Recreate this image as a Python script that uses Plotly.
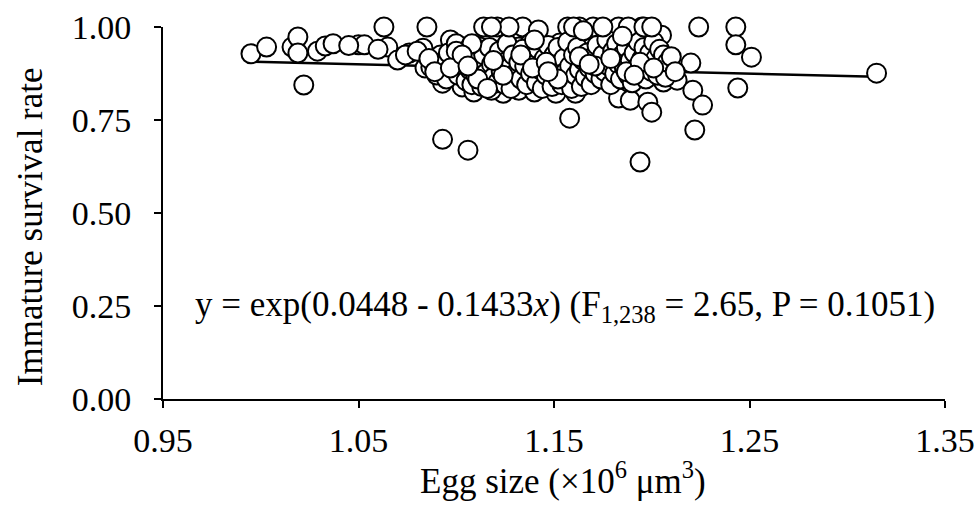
import plotly.graph_objects as go
import numpy as np

# Scatter data: egg size (x10^6 um^3) and immature survival rate
egg_size = [
    0.995, 1.003, 1.016, 1.019, 1.019, 1.022, 1.029, 1.033, 1.037, 1.050,
    1.053, 1.063, 1.065, 1.070, 1.076, 1.083, 1.085, 1.084, 1.087, 1.093,
    1.106, 1.114, 1.121, 1.134, 1.097, 1.092, 1.099, 1.094, 1.103, 1.112,
    1.116, 1.123, 1.132, 1.129, 1.093, 1.103, 1.109, 1.116, 1.124, 1.132,
    1.111, 1.130, 1.090, 1.142, 1.157, 1.163, 1.170, 1.183, 1.138, 1.153,
    1.166, 1.176, 1.144, 1.152, 1.162, 1.172, 1.180, 1.139, 1.148, 1.158,
    1.169, 1.177, 1.140, 1.151, 1.161, 1.185, 1.183, 1.158, 1.195, 1.205,
    1.224, 1.192, 1.205, 1.220, 1.183, 1.193, 1.206, 1.213, 1.221, 1.189,
    1.198, 1.200, 1.226, 1.222, 1.243, 1.243, 1.251, 1.315, 1.244, 1.194,
    1.088, 1.091, 1.095, 1.096, 1.100, 1.101, 1.102, 1.104, 1.105, 1.106,
    1.107, 1.108, 1.110, 1.110, 1.112, 1.113, 1.114, 1.115, 1.117, 1.118,
    1.118, 1.119, 1.120, 1.121, 1.122, 1.123, 1.125, 1.125, 1.126, 1.127,
    1.128, 1.129, 1.131, 1.132, 1.133, 1.134, 1.135, 1.136, 1.137, 1.138,
    1.140, 1.141, 1.142, 1.143, 1.144, 1.145, 1.146, 1.147, 1.148, 1.149,
    1.150, 1.151, 1.152, 1.153, 1.154, 1.155, 1.156, 1.157, 1.158, 1.159,
    1.160, 1.161, 1.162, 1.163, 1.164, 1.165, 1.166, 1.167, 1.168, 1.169,
    1.170, 1.171, 1.172, 1.173, 1.174, 1.175, 1.176, 1.177, 1.178, 1.179,
    1.180, 1.181, 1.182, 1.183, 1.184, 1.185, 1.186, 1.187, 1.188, 1.189,
    1.190, 1.190, 1.191, 1.192, 1.193, 1.194, 1.195, 1.196, 1.197, 1.198,
    1.199, 1.200, 1.201, 1.202, 1.203, 1.204, 1.205, 1.206, 1.207, 1.208,
    1.160, 1.175, 1.188, 1.196, 1.200, 1.127, 1.118, 1.165, 1.185, 1.140,
    1.108, 1.100, 1.060, 1.045, 1.074, 1.080, 1.086, 1.089, 1.097, 1.103,
    1.111, 1.116, 1.124, 1.133, 1.139, 1.146, 1.152, 1.163, 1.171, 1.179,
    1.187, 1.194, 1.201, 1.210, 1.212, 1.106, 1.119, 1.147, 1.168, 1.191,
]
survival = [
    0.928, 0.946, 0.946, 0.973, 0.930, 0.844, 0.935, 0.949, 0.955, 0.952,
    0.952, 1.000, 0.946, 0.911, 0.930, 0.943, 1.000, 0.890, 0.892, 0.698,
    0.669, 1.000, 1.000, 1.000, 0.965, 0.925, 0.911, 0.884, 0.879, 0.946,
    0.917, 0.898, 0.946, 0.871, 0.849, 0.839, 0.825, 0.857, 0.822, 0.830,
    0.933, 0.917, 0.871, 0.992, 1.000, 1.000, 1.000, 1.000, 0.957, 0.957,
    0.943, 0.943, 0.930, 0.884, 0.903, 0.898, 0.911, 0.871, 0.857, 0.852,
    0.863, 0.857, 0.825, 0.822, 0.822, 0.852, 0.809, 0.755, 1.000, 0.978,
    1.000, 0.930, 0.919, 0.903, 0.865, 0.890, 0.852, 0.857, 0.830, 0.803,
    0.798, 0.771, 0.790, 0.723, 1.000, 0.952, 0.919, 0.876, 0.836, 0.637,
    0.905, 0.895, 0.860, 0.930, 0.955, 0.870, 0.900, 0.915, 0.855, 0.940,
    0.885, 0.845, 0.905, 0.870, 0.890, 0.840, 0.925, 0.875, 0.945, 0.830,
    0.900, 0.865, 0.915, 0.850, 0.935, 0.880, 0.905, 0.845, 0.955, 0.890,
    0.835, 0.925, 0.880, 0.905, 0.860, 0.940, 0.895, 0.845, 0.920, 0.875,
    0.905, 0.850, 0.940, 0.885, 0.835, 0.915, 0.870, 0.950, 0.895, 0.840,
    0.925, 0.870, 0.945, 0.900, 0.845, 0.915, 0.880, 0.960, 0.895, 0.835,
    0.925, 0.870, 0.945, 0.885, 0.840, 0.910, 0.865, 0.930, 0.890, 0.845,
    0.920, 0.875, 0.950, 0.905, 0.860, 0.925, 0.880, 0.965, 0.895, 0.845,
    0.935, 0.875, 0.955, 0.900, 0.860, 0.925, 0.890, 0.945, 0.870, 0.910,
    0.985, 0.850, 0.930, 0.890, 0.960, 0.875, 0.915, 0.945, 0.860, 0.900,
    0.930, 0.880, 0.960, 0.915, 0.870, 0.940, 0.895, 0.925, 0.865, 0.905,
    1.000, 1.000, 1.000, 1.000, 1.000, 1.000, 1.000, 0.990, 0.975, 0.965,
    0.955, 0.935, 0.940, 0.950, 0.925, 0.935, 0.915, 0.880, 0.890, 0.925,
    0.860, 0.835, 0.870, 0.925, 0.890, 0.905, 0.860, 0.920, 0.895, 0.915,
    0.880, 0.905, 0.890, 0.920, 0.880, 0.895, 0.910, 0.880, 0.900, 0.870,
]

# Fitted model y = exp(a + b x)
fit_a = 0.0448
fit_b = -0.1433
fit_x = [0.995, 1.315]

x_ticks = [0.95, 1.05, 1.15, 1.25, 1.35]
x_ticklabels = ["0.95", "1.05", "1.15", "1.25", "1.35"]
y_ticks = [0.0, 0.25, 0.5, 0.75, 1.0]
y_ticklabels = ["0.00", "0.25", "0.50", "0.75", "1.00"]

x_title = "Egg size (×10<sup>6</sup> μm<sup>3</sup>)"
y_title = "Immature survival rate"
fit_label = "y = exp(0.0448 - 0.1433<i>x</i>) (F<sub>1,238</sub> = 2.65, P = 0.1051)"

FONT = "Liberation Serif, Times New Roman, serif"
FS = 34

fit_y = [float(np.exp(fit_a + fit_b * v)) for v in fit_x]

fig = go.Figure()
fig.add_trace(go.Scatter(
    x=fit_x, y=fit_y, mode="lines",
    line=dict(color="black", width=2.5),
    showlegend=False, hoverinfo="skip",
))
fig.add_trace(go.Scatter(
    x=egg_size, y=survival, mode="markers",
    marker=dict(size=19, color="white", line=dict(color="black", width=2)),
    cliponaxis=False, showlegend=False,
))

fig.add_annotation(
    x=1.1556, y=0.25, xref="x", yref="y",
    text=fit_label,
    showarrow=False, font=dict(family=FONT, size=35, color="black"),
)
# axis titles
fig.add_annotation(
    x=0.5115, y=-0.214, xref="paper", yref="paper",
    xanchor="center", yanchor="middle",
    text=x_title, showarrow=False,
    font=dict(family=FONT, size=35, color="black"),
)
fig.add_annotation(
    x=-0.170, y=0.462, xref="paper", yref="paper",
    xanchor="center", yanchor="middle", textangle=-90,
    text=y_title, showarrow=False,
    font=dict(family=FONT, size=35, color="black"),
)

fig.update_layout(
    width=979, height=507,
    margin=dict(l=163, r=34, t=27, b=108, autoexpand=False),
    paper_bgcolor="white", plot_bgcolor="white",
    font=dict(family=FONT, size=FS, color="black"),
    xaxis=dict(
        range=[0.95, 1.35], tickvals=x_ticks, ticktext=x_ticklabels,
        automargin=False,
        showgrid=False, zeroline=False, showline=True, linecolor="black", linewidth=2,
        ticks="outside", ticklen=7, tickwidth=2, tickcolor="black",
        ticklabelstandoff=3,
    ),
    yaxis=dict(
        range=[0, 1], tickvals=y_ticks, ticktext=y_ticklabels,
        automargin=False,
        showgrid=False, zeroline=False, showline=True, linecolor="black", linewidth=2,
        ticks="outside", ticklen=7, tickwidth=2, tickcolor="black",
        ticklabelstandoff=16,
    ),
)

fig.write_html("out.html")
